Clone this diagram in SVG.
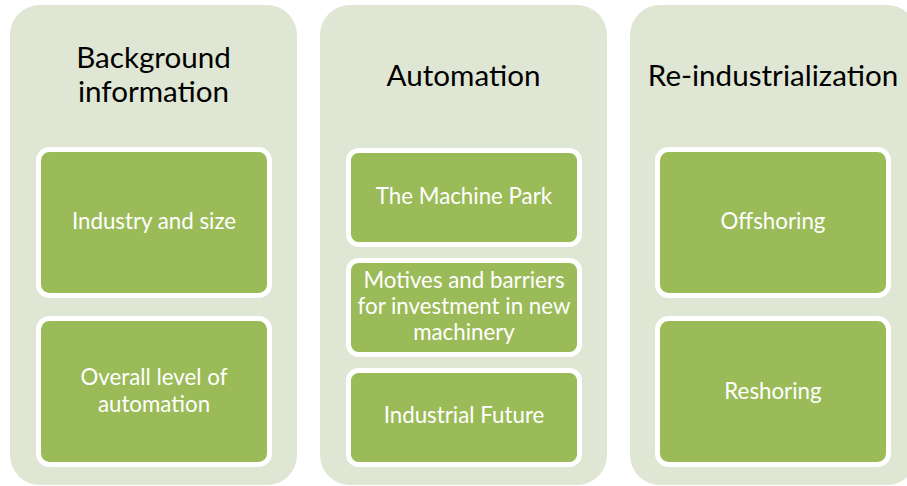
<svg xmlns="http://www.w3.org/2000/svg" width="907" height="486" viewBox="0 0 907 486">
  <style>
    .panel { fill: #dfe6d3; }
    .box { fill: #9bbb59; stroke: #ffffff; stroke-width: 5; }
    .title { font-family: Lato, "Noto Sans", "Liberation Sans", sans-serif; font-size: 29.6px; fill: #000000; text-anchor: middle; }
    .label { font-family: Lato, "Noto Sans", "Liberation Sans", sans-serif; font-size: 22.3px; fill: #ffffff; text-anchor: middle; }
  </style>
  <rect width="907" height="486" fill="#ffffff"/>

  <!-- Column 1: Background information -->
  <g id="background-information">
    <rect class="panel" x="10" y="5" width="287" height="480" rx="30" ry="30"/>
    <text class="title" x="153.5" y="68">Background</text>
    <text class="title" x="153.5" y="102">information</text>
  </g>
  <g id="industry-and-size">
    <rect class="box" x="38.5" y="149.5" width="231" height="146" rx="11" ry="11"/>
    <text class="label" x="154" y="229">Industry and size</text>
  </g>
  <g id="overall-level">
    <rect class="box" x="38.5" y="318.5" width="231" height="146" rx="11" ry="11"/>
    <text class="label" x="154" y="385">Overall level of</text>
    <text class="label" x="154" y="412">automation</text>
  </g>

  <!-- Column 2: Automation -->
  <g id="automation">
    <rect class="panel" x="320" y="5" width="287" height="480" rx="30" ry="30"/>
    <text class="title" x="463.5" y="86">Automation</text>
  </g>
  <g id="machine-park">
    <rect class="box" x="348.5" y="150.5" width="231" height="94" rx="10" ry="10"/>
    <text class="label" x="464" y="204">The Machine Park</text>
  </g>
  <g id="motives-barriers">
    <rect class="box" x="348.5" y="260.5" width="231" height="94" rx="10" ry="10"/>
    <text class="label" x="464" y="288">Motives and barriers</text>
    <text class="label" x="464" y="314">for investment in new</text>
    <text class="label" x="464" y="340">machinery</text>
  </g>
  <g id="industrial-future">
    <rect class="box" x="348.5" y="370.5" width="231" height="94" rx="10" ry="10"/>
    <text class="label" x="464" y="423">Industrial Future</text>
  </g>

  <!-- Column 3: Re-industrialization -->
  <g id="re-industrialization">
    <rect class="panel" x="630" y="5" width="287" height="480" rx="30" ry="30"/>
    <text class="title" x="773" y="86">Re-industrialization</text>
  </g>
  <g id="offshoring">
    <rect class="box" x="657.5" y="149.5" width="231" height="146" rx="11" ry="11"/>
    <text class="label" x="773" y="229">Offshoring</text>
  </g>
  <g id="reshoring">
    <rect class="box" x="657.5" y="318.5" width="231" height="146" rx="11" ry="11"/>
    <text class="label" x="773" y="399">Reshoring</text>
  </g>

  <g id="connectors"/>
</svg>
